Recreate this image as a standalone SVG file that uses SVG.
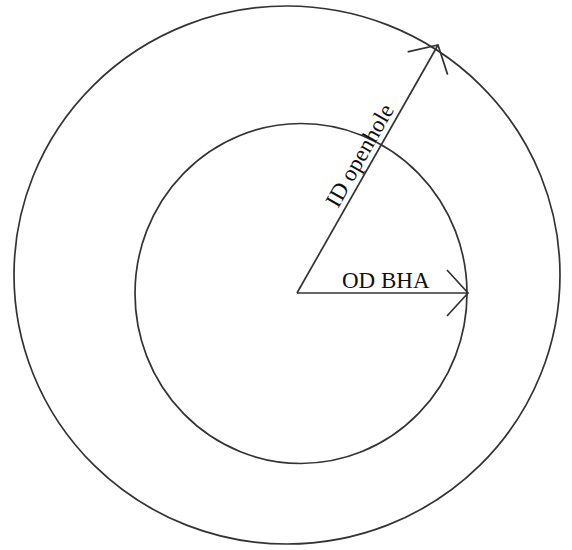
<svg xmlns="http://www.w3.org/2000/svg" width="572" height="550" viewBox="0 0 572 550">
<style>
.c{fill:none;stroke:#333;stroke-width:1.7}
.a{fill:none;stroke:#333;stroke-width:1.7}
.t{font-family:"Liberation Serif","Times New Roman",serif;font-size:23px;fill:#111}
</style>
<defs>
<marker id="arr" markerUnits="userSpaceOnUse" markerWidth="60" markerHeight="60" refX="30" refY="30" viewBox="0 0 60 60" orient="auto" overflow="visible">
<path d="M9 7 L30 30 L9 53" fill="none" stroke="#333" stroke-width="1.7"/>
</marker>
</defs>
<rect width="572" height="550" fill="#fff"/>
<g id="outer"><ellipse class="c" cx="287" cy="275" rx="273" ry="269"/></g>
<g id="inner"><ellipse class="c" cx="301" cy="293.5" rx="166" ry="170"/></g>
<g id="connectors">
<line class="a" x1="297" y1="293" x2="468" y2="293" marker-end="url(#arr)"/>
<line class="a" x1="297" y1="293" x2="438" y2="45" marker-end="url(#arr)"/>
</g>
<g id="labels">
<text class="t" x="342" y="288">OD BHA</text>
<text class="t" transform="translate(338,209) rotate(-60.4)">ID openhole</text>
</g>
</svg>
